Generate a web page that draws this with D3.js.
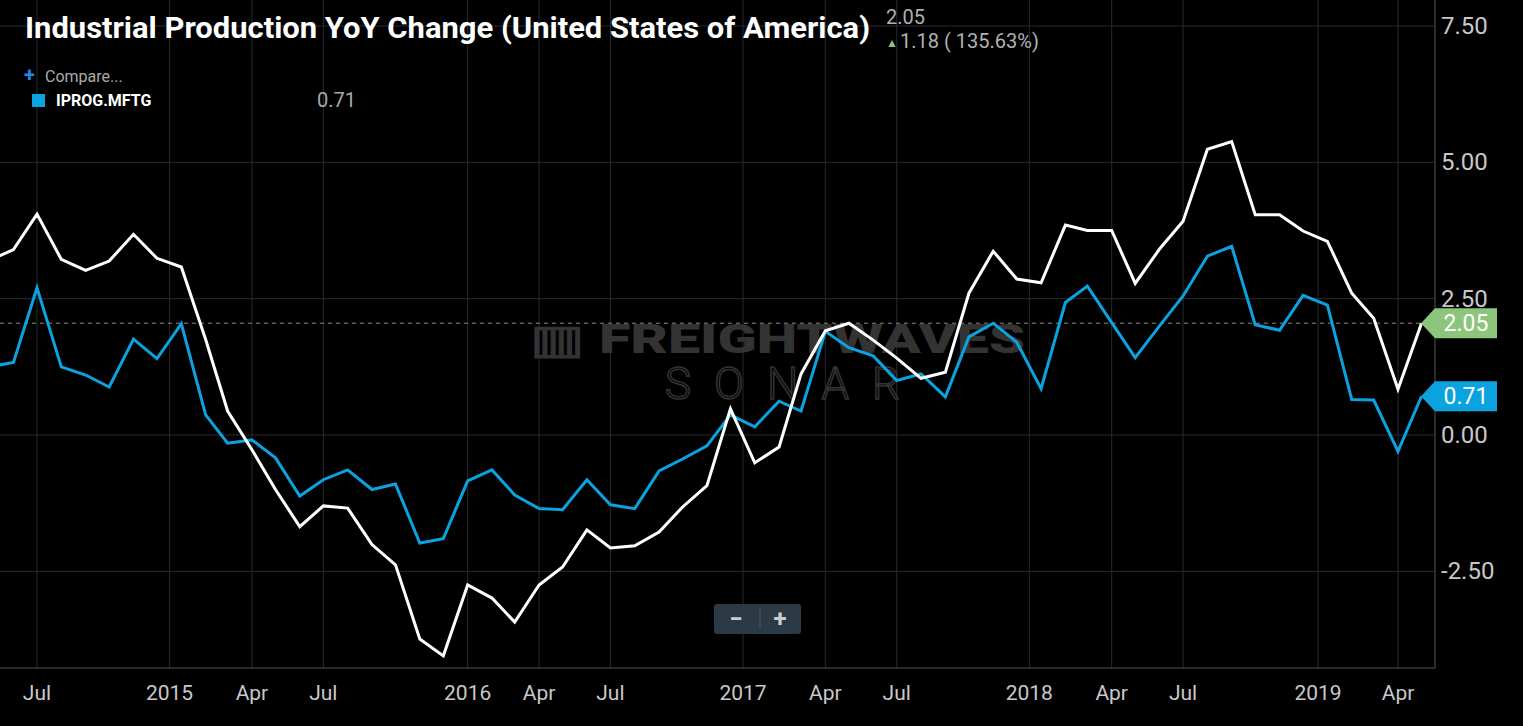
<!DOCTYPE html>
<html><head><meta charset="utf-8">
<script src="https://cdn.jsdelivr.net/npm/d3@7"></script>
<style>body{margin:0;background:#000;overflow:hidden}svg{display:block}</style>
</head><body><svg id="c" width="1523" height="726"></svg>
<script>
const startMonth = "2014-05-01";
const whiteSeries = [3.2,3.4,4.05,3.22,3.02,3.19,3.68,3.24,3.08,1.75,0.44,-0.27,-1.0,-1.68,-1.3,-1.34,-2.01,-2.38,-3.74,-4.05,-2.75,-2.99,-3.43,-2.75,-2.42,-1.74,-2.07,-2.03,-1.78,-1.32,-0.93,0.48,-0.51,-0.22,1.12,1.91,2.05,1.74,1.41,1.04,1.15,2.6,3.37,2.86,2.79,3.85,3.75,3.75,2.78,3.41,3.92,5.24,5.38,4.04,4.04,3.74,3.55,2.6,2.14,0.84,2.05];
const blueSeries = [1.25,1.33,2.7,1.25,1.1,0.88,1.76,1.4,2.04,0.37,-0.15,-0.09,-0.42,-1.12,-0.82,-0.64,-1.0,-0.9,-1.98,-1.9,-0.84,-0.64,-1.1,-1.35,-1.37,-0.82,-1.28,-1.35,-0.66,-0.44,-0.2,0.37,0.15,0.62,0.44,1.9,1.6,1.45,1.0,1.12,0.7,1.8,2.05,1.7,0.85,2.43,2.73,2.06,1.42,2.0,2.55,3.28,3.46,2.02,1.92,2.56,2.38,0.65,0.64,-0.3,0.71];
const xTicks = [["2014-07-01","Jul"],["2014-12-17","2015"],["2015-04-01","Apr"],["2015-07-01","Jul"],["2016-01-01","2016"],["2016-04-01","Apr"],["2016-07-01","Jul"],["2016-12-17","2017"],["2017-04-01","Apr"],["2017-07-01","Jul"],["2017-12-17","2018"],["2018-04-01","Apr"],["2018-07-01","Jul"],["2018-12-20","2019"],["2019-04-01","Apr"]];
const yTicks = [7.5,5,2.5,0,-2.5];

const svg = d3.select("#c");
const pm = d3.timeParse("%Y-%m-%d");
const x = d3.scaleTime().domain([pm("2014-07-01"), pm("2019-04-01")]).range([37,1398]);
const y = d3.scaleLinear().domain([0,7.5]).range([435,26]);
const L=0,R=1435,T=0,B=668;
const start = pm(startMonth);
const dates = whiteSeries.map((_,i)=>d3.timeMonth.offset(start,i));

const defs = svg.append("defs");
defs.append("clipPath").attr("id","clip").append("rect").attr("x",L).attr("y",T).attr("width",R-L).attr("height",B-T);

const g = svg.append("g");
g.selectAll(".vg").data(xTicks).join("line").attr("x1",d=>x(pm(d[0]))).attr("x2",d=>x(pm(d[0]))).attr("y1",0).attr("y2",B).attr("stroke","#262a31");
g.selectAll(".hg").data(yTicks).join("line").attr("x1",0).attr("x2",R).attr("y1",d=>y(d)).attr("y2",d=>y(d)).attr("stroke","#262a31");
g.append("line").attr("x1",R).attr("x2",R).attr("y1",0).attr("y2",B).attr("stroke","#555");
g.append("line").attr("x1",0).attr("x2",R).attr("y1",B).attr("y2",B).attr("stroke","#555");

g.append("text").attr("x",530).attr("y",353).attr("font-family","Roboto").attr("font-weight",900).attr("font-size",40).attr("fill","#333").attr("textLength",495).attr("lengthAdjust","spacingAndGlyphs").text("▥ FREIGHTWAVES");
g.append("text").attr("x",665).attr("y",399).attr("font-family","Roboto").attr("font-weight",300).attr("font-size",44).attr("fill","none").attr("stroke","#333").attr("stroke-width",1.5).attr("textLength",235).attr("lengthAdjust","spacing").text("SONAR");

g.selectAll(".yl").data(yTicks).join("text").attr("x",1441).attr("y",d=>y(d)+8).attr("fill","#c8c8c8").attr("font-family","Roboto").attr("font-size",24).text(d=>d.toFixed(2));
g.selectAll(".xl").data(xTicks).join("text").attr("x",d=>x(pm(d[0]))).attr("y",700).attr("text-anchor","middle").attr("fill","#c8c8c8").attr("font-family","Roboto").attr("font-size",21).text(d=>d[1]);

g.append("line").attr("x1",0).attr("x2",R).attr("y1",y(2.05)).attr("y2",y(2.05)).attr("stroke","#888").attr("stroke-dasharray","4,4");

const line = d3.line().x((d,i)=>x(dates[i])).y(d=>y(d));
const pg = g.append("g").attr("clip-path","url(#clip)");
pg.append("path").datum(blueSeries).attr("d",line).attr("fill","none").attr("stroke","#0aa3df").attr("stroke-width",3);
pg.append("path").datum(whiteSeries).attr("d",line).attr("fill","none").attr("stroke","#fff").attr("stroke-width",3);

function tag(v,color,txt){
  const yy=y(v);
  g.append("path").attr("d",`M${R-14},${yy} L${R},${yy-15} L1497,${yy-15} L1497,${yy+15} L${R},${yy+15} Z`).attr("fill",color);
  g.append("text").attr("x",1466).attr("y",yy+8).attr("text-anchor","middle").attr("fill",txt).attr("font-family","Roboto").attr("font-size",23).text(v.toFixed(2));
}
tag(whiteSeries[whiteSeries.length-1],"#8dc57c","#fff");
tag(blueSeries[blueSeries.length-1],"#0aa3df","#fff");

g.append("rect").attr("x",714).attr("y",604).attr("width",87).attr("height",30).attr("rx",3).attr("fill","#2c3a46");
g.append("line").attr("x1",760).attr("x2",760).attr("y1",609).attr("y2",629).attr("stroke","#556");
g.append("text").attr("x",736).attr("y",627).attr("text-anchor","middle").attr("fill","#ccc").attr("font-family","Roboto").attr("font-weight",700).attr("font-size",24).text("−");
g.append("text").attr("x",780).attr("y",627).attr("text-anchor","middle").attr("fill","#ccc").attr("font-family","Roboto").attr("font-weight",700).attr("font-size",24).text("+");

g.append("text").attr("x",25).attr("y",38).attr("fill","#fff").attr("font-family","Roboto").attr("font-weight",700).attr("font-size",30).attr("textLength",845).attr("lengthAdjust","spacingAndGlyphs").text("Industrial Production YoY Change (United States of America)");
g.append("text").attr("x",886).attr("y",24).attr("fill","#b0b0b0").attr("font-family","Roboto").attr("font-size",20).text("2.05");
g.append("text").attr("x",886).attr("y",47).attr("fill","#8dc57c").attr("font-family","Roboto").attr("font-size",12).text("▲");
g.append("text").attr("x",900).attr("y",48).attr("fill","#b0b0b0").attr("font-family","Roboto").attr("font-size",20).text("1.18 ( 135.63%)");
g.append("text").attr("x",24).attr("y",82).attr("fill","#1e88e5").attr("font-family","Roboto").attr("font-weight",700).attr("font-size",20).text("+");
g.append("text").attr("x",45).attr("y",82).attr("fill","#aaa").attr("font-family","Roboto").attr("font-size",16).text("Compare...");
g.append("rect").attr("x",32).attr("y",94).attr("width",13).attr("height",13).attr("fill","#0aa3df");
g.append("text").attr("x",56).attr("y",106).attr("fill","#fff").attr("font-family","Roboto").attr("font-weight",700).attr("font-size",16).text("IPROG.MFTG");
g.append("text").attr("x",317).attr("y",107).attr("fill","#aaa").attr("font-family","Roboto").attr("font-size",20).text(blueSeries[blueSeries.length-1].toFixed(2));
</script></body></html>
